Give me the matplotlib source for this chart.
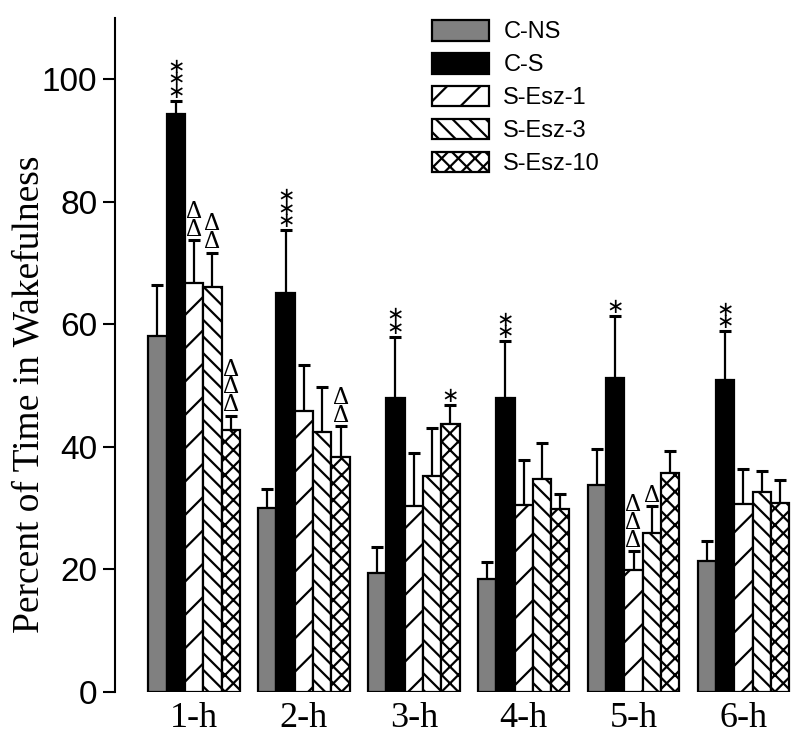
import numpy as np
import matplotlib
matplotlib.use("Agg")
import matplotlib.pyplot as plt

# values (percent of time awake, mean and SEM)
groups = ["1-h", "2-h", "3-h", "4-h", "5-h", "6-h"]
series = ["C-NS", "C-S", "S-Esz-1", "S-Esz-3", "S-Esz-10"]

cns_mean = [58.1, 30.0, 19.4, 18.4, 33.8, 21.4]
cns_err = [8.3, 3.1, 4.3, 2.8, 5.8, 3.2]
cs_mean = [94.3, 65.1, 48.0, 48.0, 51.3, 51.0]
cs_err = [2.2, 10.3, 10.0, 9.3, 10.0, 7.9]
esz1_mean = [66.7, 45.9, 30.4, 30.5, 19.9, 30.7]
esz1_err = [7.0, 7.4, 8.6, 7.3, 3.1, 5.7]
esz3_mean = [66.1, 42.4, 35.3, 34.7, 25.9, 32.7]
esz3_err = [5.6, 7.4, 7.8, 6.0, 4.4, 3.4]
esz10_mean = [42.7, 38.3, 43.7, 29.9, 35.7, 30.8]
esz10_err = [2.4, 5.1, 3.1, 2.4, 3.7, 3.8]

# significance marks above each bar
cns_marks = ["", "", "", "", "", ""]
cs_marks = ["***", "***", "**", "**", "*", "**"]
esz1_marks = ["ΔΔ", "", "", "", "ΔΔΔ", ""]
esz3_marks = ["ΔΔ", "", "", "", "Δ", ""]
esz10_marks = ["ΔΔΔ", "ΔΔ", "*", "", "", ""]

means = [cns_mean, cs_mean, esz1_mean, esz3_mean, esz10_mean]
errs = [cns_err, cs_err, esz1_err, esz3_err, esz10_err]
marks = [cns_marks, cs_marks, esz1_marks, esz3_marks, esz10_marks]
colors = ["#808080", "black", "white", "white", "white"]
hatches = [None, None, "/", "\\\\", "xx"]

plt.rcParams["hatch.linewidth"] = 1.6

fig = plt.figure(figsize=(8, 7.4), dpi=100)
ax = fig.add_axes([115 / 800, 48 / 740, 680 / 800, 674 / 740])

x = np.arange(len(groups))
w = 1 / 6
handles = []
for j, name in enumerate(series):
    pos = x + (j - 2) * w
    b = ax.bar(pos, means[j], width=w, color=colors[j], edgecolor="black",
               linewidth=1.6, hatch=hatches[j], label=name, zorder=2)
    handles.append(b)
    ax.errorbar(pos, means[j], yerr=[np.zeros(len(groups)), errs[j]], fmt="none",
                ecolor="black", elinewidth=1.6, capsize=4.5, capthick=2.2, zorder=1)
    for i, m in enumerate(marks[j]):
        if not m:
            continue
        top = means[j][i] + errs[j][i]
        if m[0] == "*":
            ax.annotate("\n".join("∗" * len(m)), (pos[i], top), xytext=(0, -0.7),
                        textcoords="offset points", ha="center", va="bottom",
                        fontsize=15, family="DejaVu Sans", linespacing=0.52)
        else:
            ax.annotate("\n".join(m), (pos[i], top), xytext=(0, -0.5),
                        textcoords="offset points", ha="center", va="bottom",
                        fontsize=18, family="Liberation Serif", linespacing=0.76)

ax.set_xlim(-0.72, 5.47)
ax.set_ylim(0, 110)
ax.set_yticks([0, 20, 40, 60, 80, 100])
ax.set_xticks(x)
ax.set_xticklabels(groups, family="Liberation Serif", fontsize=26)
for lab in ax.get_yticklabels():
    lab.set_family("Liberation Sans")
    lab.set_fontsize(24)
ax.tick_params(axis="x", length=0, pad=7)
ax.tick_params(axis="y", length=8.6, width=1.5, pad=4)
for s in ["top", "right", "bottom"]:
    ax.spines[s].set_visible(False)
ax.spines["left"].set_linewidth(1.5)

ax.set_ylabel("Percent of Time in Wakefulness", family="Liberation Serif", fontsize=27)
ax.yaxis.set_label_coords(-0.1, 0.442)

ax.legend(handles=handles, loc="upper left", bbox_to_anchor=(432 / 800, 1 - 20 / 740),
          bbox_transform=fig.transFigure, frameon=False, borderpad=0, borderaxespad=0,
          handlelength=2.42, handleheight=0.97, handletextpad=0.6, labelspacing=0.4,
          prop={"family": "Liberation Sans", "size": 17})

fig.savefig("out.png", dpi=100)
